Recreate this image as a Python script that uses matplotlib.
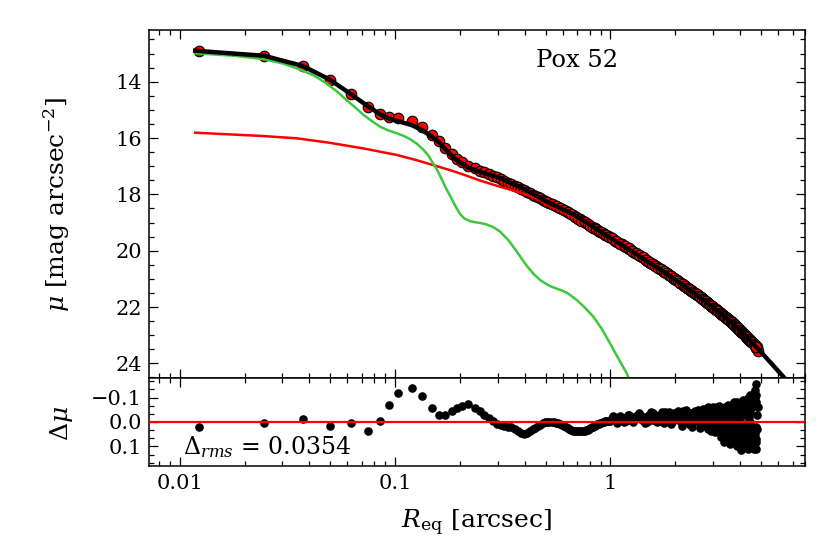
import matplotlib
matplotlib.use("Agg")
import matplotlib.pyplot as plt
from matplotlib.ticker import MultipleLocator, AutoMinorLocator, LogLocator, FuncFormatter, NullFormatter, FixedLocator

plt.rcParams['font.family'] = ['DejaVu Serif']
plt.rcParams['mathtext.fontset'] = 'dejavuserif'

# ---------------- data ----------------
r_data = [0.0123, 0.0247, 0.0372, 0.0496, 0.0623, 0.0747, 0.0855, 0.0937, 0.1031, 0.1195,
          0.134, 0.148, 0.160, 0.171, 0.183, 0.194, 0.204, 0.219, 0.235, 0.248,
          0.26, 0.272, 0.285, 0.297, 0.31, 0.322, 0.335, 0.347, 0.36, 0.372,
          0.385, 0.397, 0.41, 0.422, 0.435, 0.447, 0.46, 0.472, 0.485, 0.497,
          0.52, 0.545, 0.57, 0.595, 0.62, 0.645, 0.67, 0.695, 0.72, 0.745,
          0.77, 0.795, 0.82, 0.845, 0.87, 0.895, 0.92, 0.945, 0.97, 0.995,
          1.05, 1.10, 1.15, 1.20, 1.25, 1.30, 1.35, 1.40, 1.45, 1.50,
          1.55, 1.60, 1.65, 1.70, 1.75, 1.80, 1.85, 1.90, 1.95, 2.00,
          2.05, 2.10, 2.15, 2.20, 2.25, 2.30, 2.35, 2.40, 2.45, 2.50,
          2.55, 2.60, 2.65, 2.70, 2.75, 2.80, 2.85, 2.90, 2.95, 3.00,
          3.05, 3.10, 3.15, 3.20, 3.25, 3.30, 3.35, 3.40, 3.45, 3.50,
          3.55, 3.60, 3.65, 3.70, 3.75, 3.80, 3.85, 3.90, 3.95, 4.00,
          4.05, 4.10, 4.15, 4.20, 4.25, 4.30, 4.35, 4.40, 4.45, 4.50,
          4.55, 4.60, 4.65, 4.70, 4.75,
          4.72, 4.74, 4.76, 4.77, 4.80, 4.83]

mu_data = [12.91, 13.08, 13.43, 13.94, 14.44, 14.91, 15.16, 15.24, 15.28, 15.40,
           15.62, 15.89, 16.12, 16.36, 16.58, 16.74, 16.84, 16.98, 17.08, 17.16,
           17.22, 17.28, 17.34, 17.39, 17.45, 17.51, 17.58, 17.63, 17.70, 17.75,
           17.81, 17.86, 17.91, 17.96, 18.01, 18.05, 18.10, 18.14, 18.19, 18.23,
           18.30, 18.38, 18.46, 18.53, 18.59, 18.67, 18.75, 18.82, 18.89, 18.96,
           19.02, 19.09, 19.15, 19.21, 19.27, 19.32, 19.38, 19.43, 19.48, 19.53,
           19.64, 19.73, 19.82, 19.91, 19.99, 20.07, 20.15, 20.23, 20.31, 20.38,
           20.45, 20.52, 20.59, 20.65, 20.71, 20.77, 20.83, 20.90, 20.96, 21.02,
           21.07, 21.13, 21.19, 21.24, 21.29, 21.34, 21.39, 21.44, 21.49, 21.54,
           21.58, 21.63, 21.68, 21.73, 21.78, 21.83, 21.87, 21.92, 21.97, 22.01,
           22.06, 22.10, 22.14, 22.18, 22.23, 22.27, 22.31, 22.35, 22.39, 22.42,
           22.46, 22.50, 22.54, 22.57, 22.62, 22.66, 22.70, 22.75, 22.79, 22.83,
           22.87, 22.91, 22.95, 22.99, 23.03, 23.07, 23.11, 23.16, 23.18, 23.22,
           23.25, 23.29, 23.33, 23.37, 23.41,
           23.40, 23.40, 23.44, 23.43, 23.50, 23.55]

residuals = [0.020, 0.003, -0.014, 0.016, 0.003, 0.037, -0.004, -0.069, -0.120, -0.140,
             -0.106, -0.056, -0.027, -0.027, -0.045, -0.058, -0.065, -0.072, -0.058, -0.045,
             -0.030, -0.018, -0.005, 0.008, 0.014, 0.018, 0.020, 0.022, 0.028, 0.036,
             0.044, 0.048, 0.044, 0.036, 0.028, 0.023, 0.018, 0.012, 0.006, 0.002,
             -0.001, 0.000, 0.006, 0.014, 0.022, 0.030, 0.035, 0.037, 0.036, 0.035,
             0.034, 0.030, 0.022, 0.015, 0.010, 0.006, 0.002, -0.002, -0.004, -0.006,
             -0.010, -0.020, 0.000, -0.030, -0.010, -0.020, -0.035, -0.010, 0.005, -0.025,
             -0.040, -0.015, 0.000, -0.030, -0.020, -0.040, -0.010, 0.010, -0.030, -0.020,
             -0.045, -0.010, 0.015, -0.030, -0.050, 0.000, -0.020, 0.020, -0.040, -0.010,
             -0.050, 0.025, -0.020, -0.055, 0.010, -0.030, 0.030, -0.045, 0.000, -0.060,
             0.040, -0.020, 0.020, -0.065, 0.060, -0.030, 0.080, -0.010, 0.050, -0.070,
             0.030, 0.090, -0.045, 0.070, -0.080, 0.020, 0.100, -0.050, 0.060, -0.030,
             0.115, -0.075, 0.040, 0.080, -0.060, 0.020, -0.100, 0.090, -0.040, 0.060,
             -0.090, 0.100, -0.120, 0.050, -0.154,
             0.110, -0.080, 0.080, -0.030, 0.030, -0.060]

# second (interleaved) set of isophotes in the dense outer part
r_data2 = [0.5075, 0.5325, 0.5575, 0.5825, 0.6075, 0.6325, 0.6575, 0.6825, 0.7075, 0.7325,
           0.7575, 0.7825, 0.8075, 0.8325, 0.8575, 0.8825, 0.9075, 0.9325, 0.9575, 0.9825,
           1.025, 1.075, 1.125, 1.175, 1.225, 1.275, 1.325, 1.375, 1.425, 1.475,
           1.525, 1.575, 1.625, 1.675, 1.725, 1.775, 1.825, 1.875, 1.925, 1.975,
           2.025, 2.075, 2.125, 2.175, 2.225, 2.275, 2.325, 2.375, 2.425, 2.475,
           2.525, 2.575, 2.625, 2.675, 2.725, 2.775, 2.825, 2.875, 2.925, 2.975,
           3.025, 3.075, 3.125, 3.175, 3.225, 3.275, 3.325, 3.375, 3.425, 3.475,
           3.525, 3.575, 3.625, 3.675, 3.725, 3.775, 3.825, 3.875, 3.925, 3.975,
           4.025, 4.075, 4.125, 4.175, 4.225, 4.275, 4.325, 4.375, 4.425, 4.475,
           4.525, 4.575, 4.625, 4.675, 4.725]

mu_data2 = [18.26, 18.34, 18.42, 18.50, 18.56, 18.63, 18.71, 18.79, 18.86, 18.93,
            18.99, 19.06, 19.12, 19.18, 19.24, 19.30, 19.35, 19.41, 19.46, 19.51,
            19.59, 19.69, 19.78, 19.87, 19.95, 20.03, 20.11, 20.19, 20.27, 20.35,
            20.42, 20.49, 20.56, 20.62, 20.68, 20.74, 20.80, 20.87, 20.93, 20.99,
            21.05, 21.10, 21.16, 21.22, 21.27, 21.32, 21.37, 21.42, 21.47, 21.52,
            21.56, 21.61, 21.66, 21.71, 21.76, 21.81, 21.85, 21.90, 21.95, 21.99,
            22.04, 22.08, 22.12, 22.16, 22.21, 22.25, 22.29, 22.33, 22.37, 22.41,
            22.44, 22.48, 22.52, 22.56, 22.60, 22.64, 22.68, 22.73, 22.77, 22.81,
            22.85, 22.89, 22.93, 22.97, 23.01, 23.05, 23.09, 23.13, 23.17, 23.20,
            23.24, 23.27, 23.31, 23.35, 23.39]

residuals2 = [0.000, -0.001, 0.003, 0.010, 0.018, 0.026, 0.033, 0.036, 0.037, 0.036,
              0.035, 0.032, 0.026, 0.019, 0.012, 0.008, 0.004, 0.000, -0.003, -0.005,
              -0.025, 0.005, -0.015, -0.005, -0.030, 0.000, -0.015, -0.030, -0.020, 0.000,
              -0.020, -0.035, -0.005, -0.015, -0.040, 0.005, -0.025, -0.040, 0.000, -0.035,
              -0.015, -0.030, -0.035, 0.005, -0.015, -0.040, 0.010, -0.035, 0.000, -0.045,
              -0.005, -0.040, 0.005, -0.010, -0.045, 0.015, -0.060, -0.015, 0.035, -0.025,
              -0.050, 0.010, -0.040, 0.030, -0.020, 0.045, -0.055, 0.025, -0.040, 0.010,
              -0.060, 0.050, -0.010, -0.070, 0.040, -0.030, 0.060, -0.080, 0.030, 0.085,
              -0.050, 0.030, -0.090, 0.060, 0.010, -0.070, 0.070, -0.020, -0.110, 0.080,
              -0.060, 0.030, 0.110, -0.100, 0.070]

# third (interleaved) set of isophotes beyond 1 arcsec
r_data3 = [1.0125, 1.0625, 1.1125, 1.1625, 1.2125, 1.2625, 1.3125, 1.3625, 1.4125, 1.4625,
           1.5125, 1.5625, 1.6125, 1.6625, 1.7125, 1.7625, 1.8125, 1.8625, 1.9125, 1.9625,
           2.0125, 2.0625, 2.1125, 2.1625, 2.2125, 2.2625, 2.3125, 2.3625, 2.4125, 2.4625,
           2.5125, 2.5625, 2.6125, 2.6625, 2.7125, 2.7625, 2.8125, 2.8625, 2.9125, 2.9625,
           3.0125, 3.0625, 3.1125, 3.1625, 3.2125, 3.2625, 3.3125, 3.3625, 3.4125, 3.4625,
           3.5125, 3.5625, 3.6125, 3.6625, 3.7125, 3.7625, 3.8125, 3.8625, 3.9125, 3.9625,
           4.0125, 4.0625, 4.1125, 4.1625, 4.2125, 4.2625, 4.3125, 4.3625, 4.4125, 4.4625,
           4.5125, 4.5625, 4.6125, 4.6625, 4.7125, 4.7625]

mu_data3 = [19.56, 19.66, 19.75, 19.84, 19.92, 20.00, 20.08, 20.16, 20.24, 20.32,
            20.40, 20.47, 20.54, 20.60, 20.66, 20.72, 20.78, 20.85, 20.91, 20.97,
            21.03, 21.09, 21.15, 21.20, 21.25, 21.31, 21.36, 21.41, 21.46, 21.50,
            21.55, 21.60, 21.65, 21.70, 21.75, 21.80, 21.84, 21.89, 21.94, 21.98,
            22.03, 22.07, 22.11, 22.15, 22.20, 22.24, 22.28, 22.32, 22.36, 22.40,
            22.43, 22.47, 22.51, 22.55, 22.59, 22.63, 22.67, 22.72, 22.76, 22.80,
            22.84, 22.88, 22.92, 22.96, 23.00, 23.04, 23.08, 23.12, 23.16, 23.19,
            23.23, 23.26, 23.30, 23.34, 23.38, 23.42]

residuals3 = [-0.015, -0.010, -0.025, -0.015, -0.020, -0.010, -0.025, -0.020, -0.010, -0.015,
              -0.030, -0.010, -0.020, -0.025, -0.005, -0.020, -0.030, -0.015, -0.020, -0.010,
              -0.025, -0.020, -0.005, -0.045, -0.020, -0.015, -0.030, -0.010, -0.025, -0.030,
              -0.030, -0.010, -0.040, 0.000, -0.025, -0.050, 0.010, -0.030, -0.015, 0.020,
              -0.030, 0.000, -0.060, 0.010, -0.040, 0.020, -0.010, 0.050, -0.060, 0.030,
              -0.020, 0.060, -0.050, 0.010, -0.065, 0.080, -0.020, 0.040, -0.070, 0.050,
              0.000, -0.060, 0.100, -0.030, 0.050, -0.080, 0.040, 0.110, -0.070, 0.000,
              0.090, -0.080, 0.060, -0.130, 0.020, -0.110]

# total model (black)
total_r = [0.0118, 0.0247, 0.0372, 0.0496, 0.0623, 0.0747, 0.0855, 0.0937, 0.1031, 0.1195,
           0.134, 0.148, 0.160, 0.171, 0.183, 0.194, 0.204, 0.219, 0.235, 0.248,
           0.272, 0.297, 0.322, 0.347, 0.372, 0.397, 0.422, 0.447, 0.472, 0.497,
           0.545, 0.595, 0.645, 0.695, 0.745, 0.795, 0.845, 0.895, 0.945, 0.995,
           1.1, 1.2, 1.35, 1.5, 1.65, 1.8, 2.0, 2.2, 2.4, 2.6,
           2.8, 3.0, 3.25, 3.5, 3.75, 4.0, 4.25, 4.5, 5.0, 5.5,
           6.0, 6.6, 7.2]
total_mu = [12.90, 13.08, 13.44, 13.92, 14.44, 14.87, 15.16, 15.31, 15.40, 15.54,
            15.73, 15.95, 16.15, 16.39, 16.63, 16.80, 16.90, 17.05, 17.14, 17.20,
            17.30, 17.38, 17.49, 17.61, 17.71, 17.81, 17.92, 18.03, 18.13, 18.23,
            18.38, 18.52, 18.64, 18.78, 18.92, 19.06, 19.19, 19.31, 19.43, 19.54,
            19.74, 19.93, 20.17, 20.40, 20.60, 20.79, 21.04, 21.26, 21.46, 21.65,
            21.84, 22.03, 22.24, 22.43, 22.64, 22.84, 23.04, 23.23, 23.60, 23.95,
            24.27, 24.62, 24.95]

# outer component (red)
outer_r = [0.0118, 0.0245, 0.0349, 0.0498, 0.0714, 0.1017, 0.125, 0.150, 0.18, 0.21,
           0.248, 0.307, 0.367, 0.447, 0.524, 0.62, 0.748, 0.9, 1.068, 1.3,
           1.6, 2.0, 2.5, 3.0, 3.5, 4.0, 4.5, 4.85]
outer_mu = [15.81, 15.93, 16.01, 16.17, 16.37, 16.60, 16.78, 16.96, 17.14, 17.31,
            17.51, 17.73, 17.90, 18.12, 18.40, 18.65, 18.98, 19.36, 19.71, 20.12,
            20.55, 21.05, 21.56, 22.04, 22.44, 22.85, 23.24, 23.52]

# inner component (green)
inner_r = [0.0118, 0.018, 0.0245, 0.030, 0.0349, 0.042, 0.048, 0.054, 0.0595, 0.065,
           0.0714, 0.078, 0.0853, 0.093, 0.1017, 0.110, 0.118, 0.126, 0.1355, 0.143,
           0.150, 0.158, 0.165, 0.172, 0.180, 0.190, 0.2004, 0.210, 0.2226, 0.235,
           0.250, 0.266, 0.285, 0.307, 0.335, 0.367, 0.39, 0.41, 0.44, 0.471,
           0.50, 0.525, 0.555, 0.583, 0.63, 0.697, 0.76, 0.832, 0.91, 0.995,
           1.09, 1.189, 1.25]
inner_mu = [12.99, 13.08, 13.20, 13.35, 13.52, 13.78, 14.06, 14.36, 14.65, 14.90,
            15.18, 15.40, 15.60, 15.73, 15.83, 15.93, 16.05, 16.20, 16.42, 16.63,
            16.90, 17.18, 17.48, 17.77, 18.05, 18.40, 18.70, 18.86, 18.95, 18.99,
            19.02, 19.07, 19.16, 19.32, 19.62, 20.03, 20.32, 20.55, 20.83, 21.04,
            21.17, 21.26, 21.33, 21.39, 21.50, 21.75, 22.02, 22.34, 22.77, 23.29,
            23.84, 24.35, 24.75]

galaxy_name = "Pox 52"
rms_text = r"$\Delta_{rms}$ = 0.0354"

# ---------------- figure ----------------
fig = plt.figure(figsize=(8.30, 5.57), dpi=100)
ax1 = fig.add_axes([0.1795, 0.3214, 0.7904, 0.6247])
ax2 = fig.add_axes([0.1795, 0.1634, 0.7904, 0.1580], sharex=ax1)

dot_kw = dict(ls='none', marker='o', ms=7.6, mfc='#ff0000', mec='black', mew=0.8, zorder=2)
ax1.plot(r_data, mu_data, **dot_kw)
ax1.plot(r_data2, mu_data2, **dot_kw)
ax1.plot(r_data3, mu_data3, **dot_kw)
ax1.plot(outer_r, outer_mu, '-', color='#ff0000', lw=1.8, zorder=3)
ax1.plot(inner_r, inner_mu, '-', color='#3cc83c', lw=1.8, zorder=3)
ax1.plot(total_r, total_mu, '-', color='black', lw=3.2, zorder=4)

ax1.text(0.652, 0.8946, galaxy_name, transform=ax1.transAxes, ha='center',
         va='baseline', fontsize=17.5)

res_kw = dict(ls='none', marker='o', ms=6.2, color='black', mew=0, zorder=2)
ax2.plot(r_data, residuals, **res_kw)
ax2.plot(r_data2, residuals2, **res_kw)
ax2.plot(r_data3, residuals3, **res_kw)
ax2.axhline(0.0, color='#ff0000', lw=1.6, zorder=3)
ax2.text(0.052, 0.14, rms_text, transform=ax2.transAxes, ha='left',
         va='baseline', fontsize=17)

ax1.set_xscale('log')
ax1.set_xlim(0.0072, 8.0)
ax1.set_ylim(24.52, 12.165)
ax2.set_ylim(0.18, -0.18)

ax1.yaxis.set_major_locator(FixedLocator([14, 16, 18, 20, 22, 24]))
ax1.yaxis.set_minor_locator(MultipleLocator(0.5))
ax2.yaxis.set_major_locator(FixedLocator([-0.1, 0.0, 0.1]))
ax2.yaxis.set_minor_locator(AutoMinorLocator(3))

def yfmt(v, pos):
    s = "%.1f" % v
    if s == "-0.0":
        s = "0.0"
    return s.replace('-', '\u2212')
ax2.yaxis.set_major_formatter(FuncFormatter(yfmt))

ax2.xaxis.set_major_locator(LogLocator(base=10))
ax2.xaxis.set_minor_locator(LogLocator(base=10, subs=[2, 3, 4, 5, 6, 7, 8, 9]))
ax2.xaxis.set_major_formatter(FuncFormatter(lambda v, p: "%g" % v))
ax2.xaxis.set_minor_formatter(NullFormatter())

for ax in (ax1, ax2):
    ax.tick_params(which='both', direction='in', top=True, right=True, labelsize=15)
    ax.tick_params(which='major', length=6.5, width=0.9)
    ax.tick_params(which='minor', length=3.5, width=0.9)
    for sp in ax.spines.values():
        sp.set_linewidth(1.1)
ax1.tick_params(axis='x', which='both', labelbottom=False)
ax2.tick_params(axis='x', which='major', pad=6)
ax1.tick_params(axis='y', which='major', pad=5)
ax2.tick_params(axis='y', which='major', pad=5)

ax1.set_ylabel(r"$\mu$ [mag arcsec$^{-2}$]", fontsize=18)
ax1.yaxis.set_label_coords(-0.117, 0.5)
ax2.set_ylabel(r"$\Delta\mu$", fontsize=18)
ax2.yaxis.set_label_coords(-0.113, 0.48)
ax2.set_xlabel(r"$R_{\rm eq}$ [arcsec]", fontsize=18)
ax2.xaxis.set_label_coords(0.5, -0.47)

fig.savefig("out.png", dpi=100)
